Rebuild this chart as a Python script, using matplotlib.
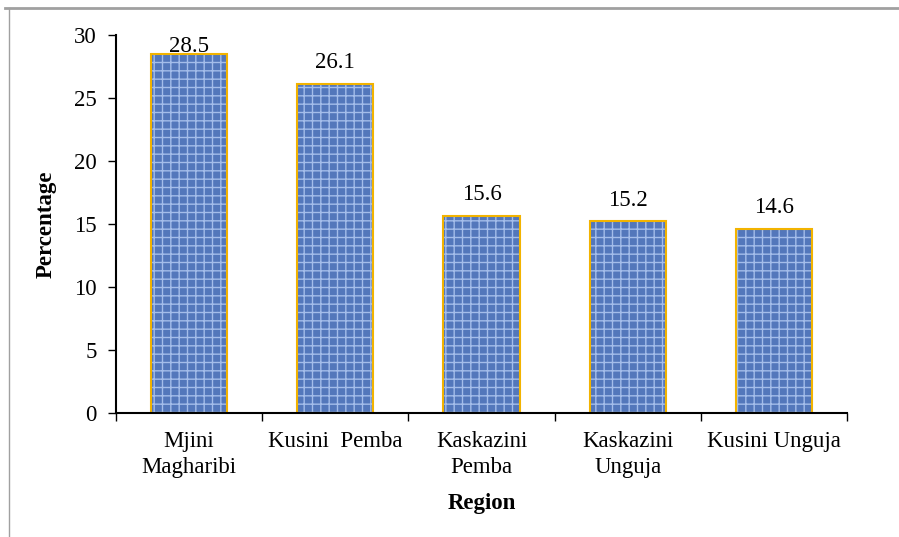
import numpy as np
import matplotlib.pyplot as plt

plt.rcParams['font.family'] = ['Liberation Serif', 'DejaVu Serif']
plt.rcParams['hatch.linewidth'] = 1.0

regions = ['Mjini\nMagharibi', 'Kusini  Pemba', 'Kaskazini\nPemba', 'Kaskazini\nUnguja', 'Kusini Unguja']
percent = [28.5, 26.1, 15.6, 15.2, 14.6]
label_gap = [1.5, 11.5, 11.5, 11.5, 11.5]  # points from bar top to text baseline

fig = plt.figure(figsize=(8.99, 5.37), dpi=100)
ax = fig.add_axes([116/899, 1 - 413/537, (847-116)/899, (413-35)/537])

x = np.arange(len(regions))
# textured fill: blue base with light cross-hatching, then a gold outline
ax.bar(x, percent, width=0.52, color='#5377bb', edgecolor='#a4bdea',
       hatch='++', linewidth=0)
ax.bar(x, percent, width=0.52, facecolor='none', edgecolor='#f2b300',
       linewidth=1.5)

for xi, v, g in zip(x, percent, label_gap):
    ax.annotate(f'{v}', (xi, v), xytext=(0, g), textcoords='offset points',
                ha='center', va='baseline', fontsize=16.5)

ax.set_xlim(-0.5, len(regions) - 0.5)
ax.set_ylim(0, 30)
ax.set_yticks(range(0, 31, 5))
ax.set_xticks(np.arange(-0.5, len(regions), 1))
ax.set_xticklabels([])
ax.set_xticks(x, minor=True)
ax.set_xticklabels(regions, minor=True, fontsize=16.5, linespacing=1.3)
ax.tick_params(axis='x', which='minor', length=0, pad=13)
ax.tick_params(axis='x', which='major', direction='out', length=6, width=1)
ax.tick_params(axis='y', direction='out', length=6, width=1, labelsize=16.5, pad=8)
ax.spines['top'].set_visible(False)
ax.spines['right'].set_visible(False)
ax.spines['left'].set_linewidth(1.5)
ax.spines['bottom'].set_linewidth(1.5)

ax.set_ylabel('Percentage', fontsize=16.5, fontweight='bold', labelpad=12)
ax.set_xlabel('Region', fontsize=16.5, fontweight='bold', labelpad=11)

# gray frame along top and left of the figure
fig.add_artist(plt.Line2D([5/899, 1], [1 - 8/537, 1 - 8/537], color='#a0a0a0', lw=2,
                          transform=fig.transFigure))
fig.add_artist(plt.Line2D([9/899, 9/899], [0, 1 - 8/537], color='#a0a0a0', lw=1,
                          transform=fig.transFigure))

fig.savefig('out.png', dpi=100)
